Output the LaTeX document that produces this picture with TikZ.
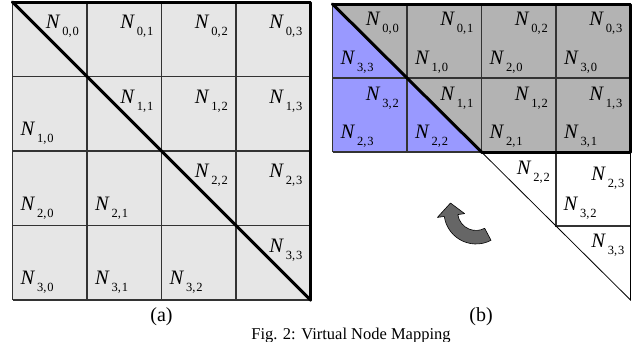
\documentclass[tikz,border=0pt]{standalone}
\usepackage{fontspec}
\setmainfont{Liberation Serif}
\definecolor{lgray}{HTML}{E6E6E6}
\definecolor{mgray}{HTML}{B3B3B3}
\definecolor{vblue}{HTML}{9999FF}
\definecolor{agray}{HTML}{666666}
\definecolor{gline}{HTML}{333333}
\newcommand\NN[2]{\textit{N}\kern1.8pt\raisebox{-7pt}{\fontsize{12.5}{13}\selectfont #1,\kern0.8pt#2}}
\begin{document}
\begin{tikzpicture}[x=1pt,y=-1pt,
  lab/.style={inner sep=0pt, font=\fontsize{20.5}{24}\selectfont},
  tr/.style={lab, anchor=base east},
  bl/.style={lab, anchor=base west},
  gridline/.style={draw=gline, line width=1.1pt},
  thinline/.style={draw=black, line width=0.8pt},
  thickedge/.style={line width=3pt, line cap=round, line join=round},
  captxt/.style={inner sep=0pt, anchor=base, font=\fontsize{20}{24}\selectfont}]
\useasboundingbox (0,0) rectangle (644,341);
% ---------- (a) ----------
\fill[lgray] (12.5,2) rectangle (310.5,300);
\foreach \k in {0,...,4} {
  \draw[gridline] ({12.5+74.5*\k},2) -- ({12.5+74.5*\k},300);
  \draw[gridline] (12.5,{2+74.5*\k}) -- (310.5,{2+74.5*\k});
}
\draw[thickedge] (12.5,2) -- (310.5,2) -- (310.5,300);
\draw[thickedge] (12.5,2) -- (310.5,300);
\foreach \i in {0,...,3} {
  \foreach \j in {0,...,3} {
    \ifnum\j<\i
      \node[bl] (a\i\j) at ({12.5+74.5*\j+8},{2+74.5*(\i+1)-15.5}) {\NN{\i}{\j}};
    \else
      \node[tr] (a\i\j) at ({12.5+74.5*(\j+1)-8},{2+74.5*\i+26.5}) {\NN{\i}{\j}};
    \fi
  }
}
% ---------- (b) ----------
\fill[mgray] (332.5,4) rectangle (630.5,152);
\fill[vblue] (332.5,4) -- (481.5,152) -- (332.5,152) -- cycle;
\foreach \k in {0,...,4} {
  \draw[gridline] ({332.5+74.5*\k},4) -- ({332.5+74.5*\k},152);
}
\foreach \yy in {4,78,152} {
  \draw[gridline] (332.5,\yy) -- (630.5,\yy);
}
\draw[gridline] (556,152) -- (556,226) -- (630.5,226);
\draw[thinline] (481.5,152) -- (630.5,300) -- (630.5,152);
\draw[thickedge] (332.5,4) -- (630.5,4) -- (630.5,152) -- (481.5,152);
\draw[thickedge] (332.5,4) -- (481.5,152);
% row 0
\node[tr] (b00) at (399,25.5) {\NN{0}{0}};
\node[tr] (b01) at (473.5,25.5) {\NN{0}{1}};
\node[tr] (b02) at (548,25.5) {\NN{0}{2}};
\node[tr] (b03) at (622.5,25.5) {\NN{0}{3}};
\node[bl] (b33) at (340.5,64.5) {\NN{3}{3}};
\node[bl] (b10) at (415,64.5) {\NN{1}{0}};
\node[bl] (b20) at (489.5,64.5) {\NN{2}{0}};
\node[bl] (b30) at (564,64.5) {\NN{3}{0}};
% row 1
\node[tr] (b32) at (399,100) {\NN{3}{2}};
\node[tr] (b11) at (473.5,100) {\NN{1}{1}};
\node[tr] (b12) at (548,100) {\NN{1}{2}};
\node[tr] (b13) at (622.5,100) {\NN{1}{3}};
\node[bl] (b23) at (340.5,138) {\NN{2}{3}};
\node[bl] (b22) at (415,138) {\NN{2}{2}};
\node[bl] (b21) at (489.5,138) {\NN{2}{1}};
\node[bl] (b31) at (564,138) {\NN{3}{1}};
% rows 2-3
\node[tr] (c22) at (550,174.5) {\NN{2}{2}};
\node[tr] (c23) at (624.5,180) {\NN{2}{3}};
\node[bl] (c32) at (563.5,210) {\NN{3}{2}};
\node[tr] (c33) at (624.5,247) {\NN{3}{3}};
% curved arrow
\draw[fill=agray, draw=black, line width=0.6pt, line join=round]
  (437.4,217.4) -- (450.5,203) -- (464.6,213.6)
  -- (457.8,214.6) arc[start angle=172, end angle=62, radius=18.4]
  -- ([shift={(476,212)}]62:32) arc[start angle=62, end angle=172, radius=32]
  -- cycle;
% captions
\node[captxt] (capa) at (161.5,321) {(a)};
\node[captxt] (capb) at (481,321) {(b)};
\node[captxt, font=\fontsize{16.5}{20}\selectfont] (fig) at (351,339.5) {Fig. 2: Virtual Node Mapping};
\end{tikzpicture}
\end{document}
